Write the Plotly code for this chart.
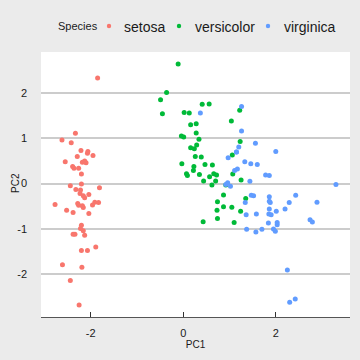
import plotly.graph_objects as go

species = ["setosa", "versicolor", "virginica"]
colors = ["#F8766D", "#00BA38", "#619CFF"]

setosa_pc1 = [-2.26, -2.07, -2.36, -2.29, -2.38, -2.07, -2.44, -2.23, -2.33, -2.18,
              -2.16, -2.32, -2.21, -2.62, -2.19, -2.25, -2.20, -2.18, -1.89, -2.34,
              -1.91, -2.20, -2.77, -1.81, -2.22, -1.95, -2.04, -2.16, -2.13, -2.26,
              -2.13, -1.83, -2.61, -2.44, -2.10, -2.20, -2.04, -2.52, -2.42, -2.16,
              -2.28, -1.85, -2.55, -1.96, -2.13, -2.06, -2.38, -2.39, -2.22, -2.20]
setosa_pc2 = [-0.48, 0.67, 0.34, 0.60, -0.64, -1.48, -0.05, -0.22, 1.11, 0.47,
              -1.04, -0.13, 0.73, 0.96, -1.85, -2.68, -1.48, -0.49, -1.40, -1.12,
              -0.41, -0.92, -0.46, -0.09, -0.14, 0.62, -0.24, -0.53, -0.31, 0.34,
              0.50, -0.42, -1.79, -2.14, 0.46, 0.21, -0.66, -0.59, 0.90, -0.27,
              -0.44, 2.33, 0.48, -0.47, -1.14, 0.71, -1.12, 0.38, -0.99, -0.01]

versicolor_pc1 = [1.10, 0.73, 1.24, 0.41, 1.07, 0.39, 0.74, -0.49, 0.92, 0.01,
                  -0.11, 0.44, 0.56, 0.72, -0.03, 0.87, 0.35, 0.16, 1.22, 0.16,
                  0.74, 0.47, 1.23, 0.63, 0.70, 0.87, 1.25, 1.35, 0.66, -0.04,
                  0.13, 0.02, 0.24, 1.06, 0.22, 0.43, 1.05, 1.04, 0.07, 0.28,
                  0.28, 0.62, 0.34, -0.36, 0.29, 0.09, 0.23, 0.57, -0.45, 0.26]
versicolor_pc2 = [-0.86, -0.59, -0.61, 1.75, 0.21, 0.59, -0.77, 1.85, -0.03, 1.03,
                  2.64, 0.06, 1.76, 0.19, 0.44, -0.51, 0.20, 0.79, 1.62, 1.30,
                  -0.40, 0.42, 0.93, 0.41, 0.06, -0.25, 0.08, -0.33, 0.22, 1.05,
                  1.56, 1.57, 0.77, 0.63, 0.29, -0.84, -0.52, 1.38, 0.22, 1.32,
                  1.12, -0.03, 0.98, 2.01, 0.85, 0.18, 0.38, 0.15, 1.54, 0.60]

virginica_pc1 = [1.84, 1.15, 2.20, 1.44, 1.86, 2.74, 0.37, 2.29, 2.00, 2.25,
                 1.36, 1.60, 1.88, 1.26, 1.46, 1.58, 1.47, 2.42, 3.30, 1.26,
                 2.03, 0.97, 2.89, 1.33, 1.70, 1.95, 1.17, 1.02, 1.78, 1.86,
                 2.43, 2.30, 1.86, 1.11, 1.20, 2.79, 1.57, 1.34, 0.92, 1.85,
                 2.01, 1.90, 1.15, 2.03, 1.99, 1.86, 1.56, 1.52, 1.37, 0.96]
virginica_pc2 = [-0.87, 0.70, -0.56, 0.05, -0.29, -0.80, 1.56, -0.42, 0.71, -1.91,
                 -0.69, 0.42, -0.42, 1.16, 0.44, -0.67, -0.26, -2.55, -0.02, 1.70,
                 -0.91, 0.57, -0.41, 0.48, -1.01, -1.00, 0.32, -0.06, 0.19, -0.56,
                 -0.26, -2.62, 0.18, 0.29, 0.81, -0.85, -1.07, -0.42, -0.02, -0.67,
                 -0.61, -0.69, 0.70, -0.86, -1.05, -0.39, 0.89, -0.27, -1.01, 0.02]

x_ticks = [-2, 0, 2]
y_ticks = [-2, -1, 0, 1, 2]

series = [(setosa_pc1, setosa_pc2), (versicolor_pc1, versicolor_pc2), (virginica_pc1, virginica_pc2)]

fig = go.Figure()
for name, col, (xs, ys) in zip(species, colors, series):
    fig.add_trace(go.Scatter(x=xs, y=ys, mode="markers", name=name, showlegend=False,
                             marker=dict(color=col, size=5, line=dict(width=0))))

all_x = setosa_pc1 + versicolor_pc1 + virginica_pc1
all_y = setosa_pc2 + versicolor_pc2 + virginica_pc2
xr = max(all_x) - min(all_x)
yr = max(all_y) - min(all_y)

font = "Liberation Sans, Arial, Helvetica, sans-serif"

# manual legend
L, R, T, B = 41, 10, 52, 43
W, H = 360 - L - R, 360 - T - B
def px_x(p):
    return (p - L) / W
def px_y(p):
    return (360 - B - p) / H

annotations = [dict(text="Species", x=px_x(56), y=px_y(26), xref="paper", yref="paper",
                    xanchor="left", yanchor="middle", showarrow=False,
                    font=dict(family=font, size=11, color="#1a1a1a")),
               dict(text="PC2", x=px_x(15), y=px_y(183), xref="paper", yref="paper",
                    xanchor="center", yanchor="middle", textangle=-90, showarrow=False,
                    font=dict(family=font, size=10, color="#1a1a1a"))]
shapes = []
dot_px = [109, 179, 268]
lab_px = [122, 193, 282]
for name, col, dx, lx in zip(species, colors, dot_px, lab_px):
    shapes.append(dict(type="circle", xref="paper", yref="paper", xsizemode="pixel", ysizemode="pixel",
                       xanchor=px_x(dx), yanchor=px_y(26), x0=-2.2, x1=2.2, y0=-2.2, y1=2.2,
                       fillcolor=col, line=dict(width=0)))
    annotations.append(dict(text=name, x=px_x(lx), y=px_y(27), xref="paper", yref="paper",
                            xanchor="left", yanchor="middle", showarrow=False,
                            font=dict(family=font, size=14, color="#1a1a1a")))

fig.update_layout(
    width=360, height=360,
    margin=dict(l=L, r=R, t=T, b=B),
    paper_bgcolor="#ebebeb", plot_bgcolor="#ffffff",
    font=dict(family=font, color="#1a1a1a"),
    showlegend=False,
    annotations=annotations, shapes=shapes,
    xaxis=dict(range=[min(all_x) - 0.05 * xr, max(all_x) + 0.05 * xr],
               tickvals=x_ticks, ticktext=[str(v) for v in x_ticks],
               automargin=False,
               showgrid=False, zeroline=False, showline=True, linecolor="#555555", linewidth=1,
               ticks="inside", ticklen=5, tickcolor="#333333", tickwidth=1,
               ticklabelstandoff=6,
               tickfont=dict(size=11, color="#1a1a1a"),
               title=dict(text="PC1", font=dict(size=10, color="#1a1a1a"), standoff=0)),
    yaxis=dict(range=[min(all_y) - 0.05 * yr, max(all_y) + 0.05 * yr],
               tickvals=y_ticks, ticktext=[str(v) for v in y_ticks],
               automargin=False,
               showgrid=True, gridcolor="#cccccc", gridwidth=1.5,
               zeroline=False, showline=False, ticks="",
               ticklabelstandoff=13,
               tickfont=dict(size=11, color="#1a1a1a")),
)

fig.write_html("out.html", config={"displayModeBar": False},
               post_script="document.body.style.margin='0';document.body.style.overflow='hidden';")
